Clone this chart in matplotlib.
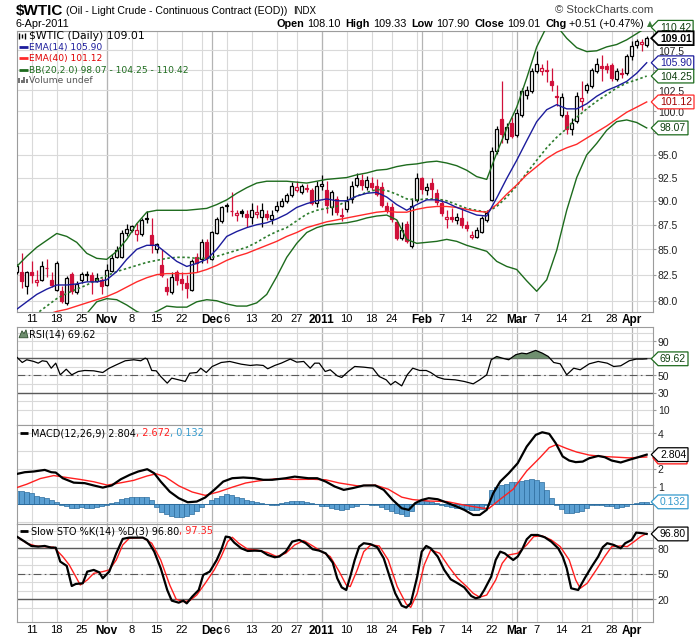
import numpy as np
import pandas as pd
import matplotlib
matplotlib.use("Agg")
import matplotlib.pyplot as plt
from matplotlib.lines import Line2D
from matplotlib.patches import Polygon
from matplotlib.path import Path
from matplotlib.ticker import NullLocator
from matplotlib.transforms import blended_transform_factory

plt.rcParams["font.family"] = ["DejaVu Sans"]

W, H = 700, 639

# ---- calendar (one entry per trading session) ----
holidays = ["2010-11-25", "2010-12-24", "2011-01-17", "2011-02-21"]
days = pd.bdate_range("2010-10-06", "2011-04-06")
days = days[~days.isin(pd.to_datetime(holidays))]

tick_pos = [3, 8, 13, 18, 23, 28, 33, 39, 42, 47, 52, 56, 61, 66, 71, 75, 81, 85, 90, 95,
            100, 104, 109, 114, 119, 123]
tick_lab = ["11", "18", "25", "Nov", "8", "15", "22", "Dec", "6", "13", "20", "27", "2011",
            "10", "18", "24", "Feb", "7", "14", "22", "Mar", "7", "14", "21", "28", "Apr"]
month_lab = {"Nov", "Dec", "2011", "Feb", "Mar", "Apr"}

# ---- daily OHLC ----
opens = [82.8, 82.8, 81.4, 82.8, 81.8, 82.0, 83.1, 82.0, 81.0, 80.9,
         79.8, 82.6, 80.8, 82.0, 82.5, 82.5, 81.9, 82.0, 81.5, 82.9,
         84.2, 84.2, 86.6, 87.0, 86.5, 86.5, 88.2, 86.4, 85.0, 83.4,
         81.3, 80.8, 82.8, 82.1, 81.7, 81.0, 84.2, 84.0, 85.7, 84.0,
         86.7, 87.9, 89.6, 88.95, 88.5, 88.9, 88.6, 88.3, 88.6, 88.3,
         88.6, 88.1, 89.0, 89.5, 90.0, 90.6, 91.2, 90.9, 91.4, 91.1,
         89.8, 91.6, 91.1, 89.3, 90.2, 88.5, 89.1, 90.2, 91.7, 92.2,
         91.5, 91.9, 91.6, 91.5, 89.5, 89.3, 87.8, 86.1, 87.6, 85.3,
         90.1, 92.4, 91.1, 91.9, 90.8, 89.8, 88.1, 88.35, 88.0, 88.2,
         87.5, 86.2, 86.2, 86.8, 88.0, 90.1, 95.4, 99.1, 96.8, 98.7,
         97.2, 99.6, 101.9, 102.4, 104.9, 104.9, 105.0, 103.6, 101.8, 99.6,
         99.6, 97.9, 98.9, 101.2, 102.6, 103.0, 104.9, 105.5, 105.5, 105.6,
         103.9, 104.6, 104.6, 106.8, 108.1, 108.3, 108.10]
highs = [83.5, 84.6, 82.9, 83.8, 83.0, 83.8, 84.0, 82.8, 83.8, 81.4,
         82.4, 82.8, 81.9, 82.8, 82.9, 82.8, 82.7, 82.2, 83.5, 84.5,
         85.3, 87.0, 87.6, 87.5, 87.7, 88.2, 88.9, 88.2, 85.6, 85.0,
         82.2, 82.8, 82.95, 82.8, 82.5, 84.0, 84.6, 86.0, 86.0, 86.9,
         88.3, 89.5, 89.8, 90.9, 89.0, 89.1, 89.0, 89.8, 89.6, 89.8,
         89.0, 89.0, 90.0, 90.3, 90.8, 92.0, 92.1, 91.8, 91.8, 91.4,
         92.1, 92.8, 92.1, 91.2, 90.5, 89.2, 90.5, 92.1, 93.0, 92.9,
         92.7, 92.6, 92.3, 92.0, 89.9, 89.8, 88.0, 87.8, 87.9, 90.3,
         93.0, 92.6, 91.9, 92.4, 91.3, 90.2, 89.0, 89.2, 88.7, 89.1,
         87.9, 86.9, 87.3, 88.4, 89.0, 95.9, 98.3, 103.6, 98.6, 99.3,
         100.3, 102.8, 103.0, 105.2, 107.4, 105.8, 106.2, 105.2, 103.2, 102.2,
         100.1, 99.2, 102.3, 103.6, 103.4, 105.3, 106.5, 106.9, 105.9, 105.9,
         105.3, 105.3, 107.0, 108.6, 108.9, 108.9, 109.33]
lows = [82.6, 81.2, 80.6, 81.7, 81.4, 81.9, 82.3, 81.3, 80.9, 79.8,
        79.6, 80.6, 80.6, 81.7, 81.9, 80.6, 81.8, 80.6, 81.4, 82.8,
        84.1, 84.1, 86.3, 86.8, 85.8, 86.3, 87.7, 84.6, 84.6, 82.3,
        80.5, 80.6, 81.5, 81.0, 80.3, 80.9, 82.8, 83.6, 83.6, 83.9,
        86.5, 87.7, 88.8, 88.4, 87.9, 88.3, 87.3, 87.6, 88.2, 87.3,
        88.0, 87.6, 88.8, 89.3, 89.8, 90.4, 90.9, 90.7, 90.9, 89.6,
        89.3, 91.2, 88.7, 88.5, 88.5, 87.9, 88.8, 89.8, 91.5, 91.1,
        91.2, 91.2, 90.5, 89.3, 88.7, 87.8, 85.9, 85.9, 85.6, 85.1,
        89.9, 90.7, 90.6, 90.2, 89.6, 88.4, 87.2, 87.8, 87.6, 87.2,
        86.9, 86.0, 86.1, 86.6, 87.8, 90.0, 95.1, 96.3, 96.4, 96.9,
        97.0, 99.4, 101.5, 102.2, 104.6, 104.4, 103.5, 102.4, 100.6, 99.4,
        97.4, 97.3, 98.6, 100.2, 102.2, 102.8, 104.6, 103.6, 104.6, 103.6,
        103.7, 104.0, 104.4, 106.2, 107.7, 107.4, 107.90]
closes = [83.3, 81.85, 82.8, 82.5, 82.0, 83.3, 83.1, 81.5, 83.6, 79.95,
          82.2, 80.9, 81.6, 82.6, 82.6, 81.9, 82.2, 81.4, 83.0, 84.1,
          84.9, 86.7, 87.1, 87.4, 87.0, 88.0, 88.05, 85.4, 85.5, 82.5,
          80.9, 82.3, 82.0, 81.7, 81.2, 83.8, 83.6, 85.7, 84.1, 86.8,
          88.1, 89.3, 89.4, 88.9, 88.7, 88.75, 88.3, 89.0, 88.8, 89.0,
          88.3, 88.5, 89.5, 90.0, 90.6, 91.6, 91.5, 91.6, 91.3, 89.8,
          91.6, 91.75, 89.6, 90.9, 88.8, 88.4, 90.0, 91.6, 92.4, 91.7,
          92.2, 91.5, 90.7, 89.6, 89.0, 88.1, 86.1, 87.0, 85.8, 89.4,
          92.5, 91.3, 91.5, 91.3, 89.9, 88.7, 88.3, 88.1, 88.3, 87.5,
          87.2, 86.4, 87.0, 88.2, 88.7, 95.4, 98.0, 97.4, 98.2, 97.1,
          99.8, 102.4, 102.6, 104.9, 105.8, 105.3, 104.9, 103.2, 101.7, 101.7,
          97.9, 98.7, 101.8, 101.6, 103.1, 105.0, 105.8, 105.2, 105.1, 104.0,
          104.9, 104.5, 106.8, 108.0, 108.6, 108.50, 109.01]

# ---- overlays, read every second session ----
band_days = list(range(0, 127, 2))
ema14 = [79.2, 79.9, 80.6, 81.1, 81.5, 81.5, 81.6, 81.8, 81.8, 82.0,
         82.8, 84.0, 85.0, 85.4, 85.4, 84.6, 83.8, 83.3, 83.6, 84.0,
         85.0, 86.3, 86.8, 87.2, 87.5, 87.7, 88.1, 88.6, 89.3, 89.7,
         90.0, 90.2, 90.0, 90.0, 90.5, 90.8, 90.9, 90.4, 89.6, 89.0,
         89.6, 90.1, 90.1, 89.8, 89.3, 88.9, 88.5, 88.4, 90.3, 92.4,
         94.4, 96.6, 98.8, 100.2, 100.8, 100.3, 100.3, 100.9, 101.8, 102.5,
         103.0, 103.6, 104.6, 105.9]
ema40 = [78.2, 78.3, 78.5, 78.7, 79.0, 79.2, 79.5, 79.8, 80.1, 80.4,
         80.8, 81.3, 81.8, 82.2, 82.5, 82.6, 82.6, 82.6, 82.7, 83.0,
         83.4, 83.9, 84.3, 84.6, 85.0, 85.4, 85.8, 86.3, 86.7, 87.2,
         87.5, 87.8, 88.0, 88.2, 88.4, 88.6, 88.8, 88.9, 88.8, 88.8,
         89.1, 89.3, 89.4, 89.4, 89.3, 89.1, 88.9, 88.8, 89.6, 90.7,
         91.7, 92.8, 93.7, 94.6, 95.3, 95.8, 96.2, 96.9, 97.6, 98.3,
         99.1, 99.9, 100.5, 101.12]
bb_mid = [78.0, 78.4, 78.8, 79.5, 80.2, 80.7, 81.1, 81.5, 82.0, 82.4,
          82.8, 83.1, 83.4, 83.7, 83.9, 84.1, 84.2, 84.2, 84.1, 84.1,
          84.3, 84.6, 84.9, 85.2, 85.7, 86.3, 86.8, 87.2, 87.9, 88.6,
          89.0, 89.2, 89.4, 90.0, 90.5, 90.9, 91.2, 91.1, 90.7, 90.2,
          90.1, 90.2, 90.2, 90.0, 89.6, 89.2, 89.0, 88.8, 89.4, 90.4,
          91.6, 93.0, 94.4, 95.8, 97.0, 98.0, 99.3, 100.3, 101.2, 102.0,
          102.8, 103.4, 103.8, 104.25]
bb_up = [83.3, 84.3, 85.2, 85.9, 86.6, 86.3, 85.7, 84.6, 84.1, 84.0,
         84.8, 86.0, 87.6, 88.8, 89.0, 89.0, 89.0, 89.0, 89.1, 89.2,
         89.6, 90.1, 90.8, 91.4, 91.9, 92.1, 92.1, 92.1, 92.0, 91.9,
         92.1, 92.3, 92.4, 92.5, 92.8, 93.0, 93.3, 93.4, 93.7, 93.9,
         94.0, 94.2, 94.3, 94.1, 93.8, 93.3, 92.6, 92.3, 95.2, 98.0,
         100.5, 104.0, 107.9, 110.5, 110.6, 109.0, 107.8, 107.3, 107.4, 107.9,
         108.2, 108.8, 109.6, 110.42]
bb_lo = [72.7, 72.5, 72.8, 73.1, 73.8, 75.1, 77.5, 78.8, 79.9, 80.2,
         80.1, 79.6, 79.0, 78.6, 79.0, 79.5, 79.4, 79.4, 79.9, 80.1,
         80.0, 79.7, 79.5, 79.5, 79.8, 80.6, 82.3, 84.2, 85.6, 86.7,
         87.2, 87.5, 87.6, 87.7, 87.9, 88.2, 88.4, 88.5, 88.0, 86.0,
         85.6, 85.7, 85.8, 86.0, 85.8, 85.4, 85.1, 84.8, 83.8, 83.3,
         83.0, 81.9, 80.9, 82.0, 84.9, 89.0, 92.5, 95.0, 96.3, 97.8,
         98.8, 99.0, 98.7, 98.07]

# ---- RSI(14) ----
rsi_day = [0, 1.1, 2, 3.4, 4.3, 5.1, 6, 6.9, 7.8, 8.7, 9.9, 11, 12.3, 13.6, 15.4, 17.2,
           18.5, 19.9, 21.7, 23.4, 24.8, 25.7, 26.1, 27, 27.9, 28.8, 30.1, 31, 32.4, 33.7,
           34.6, 36, 36.8, 37.9, 39.1, 40.9, 42.6, 44.9, 46.7, 48, 49.3, 50.2, 51.6, 52.9,
           54.7, 56, 57.4, 58.7, 59.6, 60.5, 61.7, 62.7, 64.1, 65, 66.3, 67.6, 69.4, 71.2,
           72.5, 73.9, 74.8, 75.7, 77, 78.1, 79.2, 80.6, 81.9, 82.8, 84.2, 85.5, 87.7, 89.5,
           91.3, 92.6, 94, 94.9, 96, 97.1, 98.4, 99.8, 101, 102, 103.8, 105.1, 106.3, 107.4,
           108.7, 110, 111.4, 112.7, 114.5, 116.3, 118.1, 119.4, 120.8, 122.5, 123.9, 125.2, 126]
rsi_val = [71.6, 65.3, 68.5, 66.5, 64.5, 67.3, 66.5, 58.6, 64.5, 50.8, 57.4, 50.8, 54.7, 55.9,
           55.5, 53.5, 58.6, 62.5, 67.3, 68.5, 67.3, 70.4, 69.2, 55.9, 55.5, 48.8, 41.0, 46.9,
           44.9, 43.0, 52.7, 53.5, 58.6, 53.5, 60.6, 65.3, 66.5, 63.3, 61.8, 62.5, 61.8, 57.9,
           61.8, 64.5, 69.3, 65.7, 66.5, 58.6, 64.5, 64.5, 54.7, 56.7, 49.6, 47.7, 54.7, 60.6,
           59.8, 58.6, 48.8, 44.9, 39.0, 43.0, 37.8, 50.8, 58.6, 55.9, 55.9, 53.5, 48.0, 45.7,
           44.9, 43.0, 40.2, 44.9, 50.8, 68.5, 72.4, 70.4, 68.5, 74.4, 76.3, 75.5, 79.5, 76.3,
           72.4, 65.3, 63.7, 50.8, 58.6, 56.7, 63.7, 66.5, 64.5, 60.6, 61.4, 67.3, 69.3, 69.3,
           69.62]

# ---- MACD(12,26,9) ----
macd_day = [0, 1.6, 3.4, 5.6, 6.9, 7.8, 9.2, 11.4, 13.6, 15.4, 17.2, 19.0, 20.8, 22.6, 24.3,
            26.1, 27.5, 28.8, 30.6, 32.4, 34.2, 36.0, 37.7, 39.5, 41.3, 43.1, 45.3, 47.5, 49.3,
            51.1, 53.8, 55.6, 58.3, 60.1, 61.8, 63.6, 65.4, 67.2, 69.4, 71.7, 73.4, 75.2, 77.0,
            78.4, 79.7, 81.0, 82.4, 84.2, 86.0, 87.7, 89.5, 91.3, 92.6, 94.0, 95.3, 96.7, 98.4,
            100.2, 102.0, 103.8, 105.1, 106.5, 107.8, 109.2, 110.5, 111.8, 113.2, 114.5, 116.3,
            117.6, 119.0, 120.8, 122.5, 124.3, 126]
macd_val = [1.71, 1.81, 1.85, 1.94, 1.81, 1.79, 1.47, 1.22, 1.19, 1.06, 0.94, 1.06, 1.41, 1.66,
            1.85, 1.98, 1.75, 1.28, 0.71, 0.34, 0.11, 0.15, 0.38, 0.81, 1.28, 1.47, 1.51, 1.47,
            1.38, 1.38, 1.47, 1.56, 1.47, 1.47, 1.28, 1.00, 0.81, 0.91, 1.06, 1.06, 0.81, 0.24,
            -0.23, -0.32, 0.06, 0.24, 0.34, 0.28, 0.09, -0.10, -0.32, -0.61, -0.61, -0.32, 0.62,
            1.28, 1.75, 2.32, 3.26, 3.92, 4.07, 3.98, 3.45, 2.70, 2.47, 2.38, 2.41, 2.60, 2.73,
            2.66, 2.47, 2.36, 2.51, 2.66, 2.804]
sig_day = [0, 2.0, 4.7, 7.4, 10.0, 12.7, 15.4, 18.1, 20.8, 23.4, 26.1, 27.9, 29.7, 32.4, 35.1,
           37.7, 40.4, 43.1, 45.8, 48.4, 52.0, 55.6, 59.2, 61.8, 64.5, 68.1, 71.7, 74.3, 77.0,
           79.2, 82.4, 86.0, 89.5, 93.1, 94.4, 96.7, 99.3, 102.0, 104.7, 106.5, 108.0, 110.0,
           112.0, 114.5, 117.2, 120.0, 122.5, 126]
sig_val = [0.94, 1.13, 1.45, 1.62, 1.51, 1.40, 1.27, 1.08, 1.21, 1.35, 1.60, 1.72, 1.55, 1.04,
           0.69, 0.50, 0.70, 0.96, 1.20, 1.32, 1.44, 1.40, 1.41, 1.38, 1.20, 1.04, 1.08, 0.85,
           0.40, 0.26, 0.18, 0.15, -0.05, -0.22, -0.25, 0.28, 0.85, 1.88, 2.65, 3.20, 3.38, 3.15,
           2.95, 2.78, 2.70, 2.66, 2.62, 2.672]
hist = [0.77, 0.75, 0.70, 0.62, 0.47, 0.40, 0.34, 0.21, 0.15, -0.06,
        -0.13, -0.19, -0.23, -0.17, -0.19, -0.21, -0.17, -0.13, -0.06, 0.06,
        0.15, 0.28, 0.36, 0.40, 0.40, 0.40, 0.38, 0.21, -0.17, -0.42,
        -0.57, -0.66, -0.70, -0.70, -0.68, -0.57, -0.40, -0.17, 0.02, 0.21,
        0.34, 0.47, 0.57, 0.51, 0.43, 0.34, 0.25, 0.17, 0.13, 0.06,
        0.02, -0.04, -0.04, 0.06, 0.15, 0.19, 0.19, 0.17, 0.13, 0.06,
        0.0, -0.08, -0.13, -0.19, -0.28, -0.32, -0.25, -0.17, -0.08, 0.0,
        0.0, -0.04, -0.06, -0.17, -0.28, -0.40, -0.47, -0.57, -0.64, -0.36,
        0.06, 0.17, 0.19, 0.13, 0.06, -0.06, -0.13, -0.17, -0.19, -0.23,
        -0.28, -0.32, -0.32, -0.26, -0.04, 0.81, 1.0, 1.09, 1.15, 1.23,
        1.28, 1.34, 1.38, 1.42, 1.38, 1.28, 0.81, 0.34, -0.04, -0.28,
        -0.51, -0.47, -0.43, -0.38, -0.23, -0.06, -0.02, -0.04, -0.08, -0.13,
        -0.19, -0.17, -0.08, 0.02, 0.09, 0.11, 0.132]

# ---- Slow STO %K(14) %D(3) ----
k_day = [0, 1.6, 2.9, 4.3, 5.6, 6.9, 7.8, 8.7, 10.0, 11.0, 11.8, 13.2, 14.1, 15.4, 16.5, 17.2,
         18.5, 19.9, 21.2, 22.5, 23.9, 25.2, 26.1, 27.5, 28.8, 30.1, 31.0, 32.4, 33.3, 34.0,
         35.1, 36.4, 37.3, 38.6, 40.0, 40.9, 41.8, 42.6, 43.5, 44.9, 46.2, 47.6, 48.9, 50.2,
         51.6, 52.5, 53.8, 55.1, 56.5, 57.8, 59.2, 60.5, 61.8, 63.2, 64.1, 65.0, 65.9, 66.7,
         67.6, 68.5, 69.4, 70.8, 72.1, 73.4, 74.8, 75.7, 77.0, 77.9, 78.8, 80.1, 81.0, 81.9,
         82.8, 84.2, 85.5, 86.8, 88.2, 89.5, 90.9, 91.8, 92.6, 93.5, 94.9, 95.8, 96.7, 97.6,
         98.4, 99.3, 100.2, 101.1, 102.0, 102.9, 104.2, 105.6, 106.9, 108.3, 109.2, 110.0,
         110.9, 112.3, 113.6, 115.0, 116.3, 117.2, 118.1, 119.4, 120.8, 121.7, 123.0, 123.9,
         125.2, 126]
k_val = [93.7, 87.8, 82.7, 81.9, 82.7, 80.7, 80.7, 64.3, 59.2, 35.6, 38.0, 38.8, 52.5, 54.5,
         51.7, 44.7, 52.5, 74.0, 91.0, 92.5, 92.5, 92.5, 89.8, 76.0, 56.4, 30.9, 18.4, 16.0,
         18.4, 15.2, 23.1, 30.9, 48.6, 52.5, 66.2, 78.0, 93.7, 92.9, 86.6, 79.9, 76.8, 77.2,
         76.8, 72.1, 69.4, 70.2, 76.0, 87.8, 89.8, 85.9, 78.8, 77.2, 74.0, 63.1, 44.7, 34.0,
         30.9, 46.6, 66.2, 81.9, 85.9, 84.7, 81.2, 68.2, 42.7, 27.0, 12.5, 10.2, 15.2, 46.6,
         76.0, 82.7, 79.9, 70.2, 54.5, 43.5, 38.8, 34.0, 23.9, 21.2, 22.4, 30.9, 46.6, 66.2,
         76.0, 74.0, 70.2, 66.2, 70.2, 78.8, 90.5, 95.6, 95.6, 92.9, 87.8, 79.9, 70.2, 56.4,
         32.9, 30.9, 44.7, 58.4, 70.2, 81.2, 85.9, 83.9, 79.9, 85.9, 89.8, 98.4, 97.6, 96.8]
d_day = [0, 2.0, 3.8, 5.6, 7.4, 9.2, 10.5, 11.8, 12.7, 14.1, 15.4, 17.2, 18.5, 19.9, 21.2, 22.5,
         25.2, 27.0, 28.8, 30.6, 31.9, 33.3, 34.6, 36.0, 37.7, 39.5, 40.9, 42.2, 43.1, 44.4,
         46.2, 48.0, 50.2, 52.0, 53.8, 55.6, 57.4, 59.2, 61.0, 62.7, 64.5, 65.9, 66.7, 68.1,
         69.4, 70.8, 72.5, 74.3, 76.1, 77.9, 78.8, 80.1, 81.5, 82.8, 84.6, 86.4, 88.2, 90.0,
         91.3, 92.6, 94.0, 95.8, 97.1, 98.4, 100.2, 102.0, 103.4, 105.1, 106.9, 108.7, 110.5,
         111.8, 112.7, 114.1, 115.9, 117.6, 119.0, 120.8, 122.1, 123.5, 124.8, 126]
d_val = [93.7, 85.9, 82.7, 81.9, 81.2, 70.2, 60.4, 46.6, 36.8, 42.7, 50.5, 52.5, 54.5, 66.2,
         83.9, 91.7, 92.5, 85.9, 66.2, 36.8, 19.9, 17.2, 18.4, 25.0, 38.8, 54.5, 70.2, 87.8,
         92.9, 85.9, 78.8, 78.0, 74.9, 70.2, 74.1, 83.9, 89.0, 82.7, 76.0, 70.2, 52.5, 36.8,
         34.9, 54.5, 76.0, 83.9, 82.7, 66.2, 34.9, 14.4, 10.5, 27.0, 60.4, 78.0, 74.1, 58.4,
         44.7, 34.9, 27.0, 22.4, 25.0, 42.7, 62.3, 72.1, 74.1, 83.9, 93.7, 94.5, 89.8, 81.9,
         66.2, 42.7, 32.9, 38.8, 54.5, 70.2, 81.9, 82.7, 81.9, 87.8, 93.7, 97.35]

# ---- colours ----
RED = "#d0103a"
NAVY = "#1c1c9c"
EMA_RED = "#ff2a2a"
GREEN = "#1d6b1d"
GRID = "#d9d9d9"
GRID_M = "#b4b4b4"
SPINE = "#9c9c9c"
MACD_BLUE = "#3399cc"

fig = plt.figure(figsize=(W / 100, 6.395), dpi=100)
fig.patch.set_facecolor("white")


def box(top, bottom, left=16.5, right=653.0):
    return [left / W, 1 - bottom / H, (right - left) / W, (bottom - top) / H]


ax_p = fig.add_axes(box(31, 312))
ax_r = fig.add_axes(box(327, 425))
ax_m = fig.add_axes(box(425, 524))
ax_s = fig.add_axes(box(524, 622))
panels = [ax_p, ax_r, ax_m, ax_s]

x = np.arange(len(closes))
wk = days.isocalendar().week.values
mo = days.month.values
week_idx = [i for i in range(1, len(days)) if wk[i] != wk[i - 1]]
month_idx = [i for i in range(1, len(days)) if mo[i] != mo[i - 1]]

for ax in panels:
    ax.set_xlim(-0.05, 127.26)
    ax.set_facecolor("white")
    for i in week_idx:
        ax.axvline(i, color=GRID, lw=0.8, zorder=0)
    for i in month_idx:
        ax.axvline(i, color=GRID_M, lw=0.9, zorder=0)
    for s in ax.spines.values():
        s.set_color(SPINE)
        s.set_linewidth(0.8)
    ax.yaxis.tick_right()
    ax.tick_params(axis="y", length=2, pad=1.5, labelsize=7.5, colors="#222222")
    ax.tick_params(axis="y", color=SPINE)
    ax.set_xticks(tick_pos)
    ax.tick_params(axis="x", length=0, pad=1.5, labelsize=8)
    ax.xaxis.set_minor_locator(NullLocator())

for ax in (ax_p, ax_s):
    ax.set_xticklabels(tick_lab)
    for lab in ax.get_xticklabels():
        lab.set_family("Liberation Sans")
        if lab.get_text() in month_lab:
            lab.set_fontweight("bold")
            lab.set_fontsize(8.5)
for ax in (ax_r, ax_m):
    ax.set_xticklabels([])

# ---- price panel ----
ax_p.set_yscale("log")
ax_p.set_ylim(78.97, 110.0)
ylev = np.arange(80, 110.1, 2.5)
for v in ylev:
    ax_p.axhline(v, color=GRID, lw=0.8, zorder=0)
ax_p.set_yticks(ylev[:-1])
# 97.5 and 105.0 sit under the value tags
ax_p.set_yticklabels(["" if v in (97.5, 105.0) else f"{v:.1f}" for v in ylev[:-1]])
ax_p.yaxis.set_minor_locator(NullLocator())

o = np.array(opens)
hi = np.array(highs)
lo = np.array(lows)
c = np.array(closes)
prev = np.r_[c[0], c[:-1]]
col = np.where(c >= prev, "black", RED)
face = np.where(c > o, "white", col)
ax_p.vlines(x, lo, hi, colors=col, lw=0.9, zorder=3)
ax_p.bar(x, np.maximum(o, c) - np.minimum(o, c), bottom=np.minimum(o, c), width=0.62,
         color=face, edgecolor=col, linewidth=0.9, zorder=4)

ax_p.plot(band_days, bb_up, color=GREEN, lw=1.0, zorder=5)
ax_p.plot(band_days, bb_lo, color=GREEN, lw=1.0, zorder=5)
ax_p.plot(band_days, bb_mid, color="#2e7d2e", lw=1.2, ls=(0, (1.5, 1.5)), zorder=5)
ax_p.plot(band_days, ema40, color=EMA_RED, lw=1.0, zorder=5)
ax_p.plot(band_days, ema14, color=NAVY, lw=1.0, zorder=5)

# ---- RSI panel ----
ax_r.set_ylim(-8.0, 107.3)
for v in range(10, 101, 10):
    ax_r.axhline(v, color=GRID, lw=0.8, zorder=0)
ax_r.axhline(70, color="#5a5a5a", lw=1.0, zorder=1)
ax_r.axhline(30, color="#5a5a5a", lw=1.0, zorder=1)
ax_r.axhline(50, color="#5a5a5a", lw=0.8, ls=(0, (7, 3, 1.5, 3)), zorder=1)
rd = np.array(rsi_day)
rv = np.array(rsi_val)
ax_r.fill_between(rd, rv, 70, where=rv > 70, interpolate=True, color="#6f8f6f", lw=0, zorder=2)
ax_r.plot(rd, rv, color="black", lw=0.9, zorder=3)
ax_r.set_yticks([10, 30, 50, 70, 90])
ax_r.set_yticklabels(["10", "30", "50", "", "90"])

# ---- MACD panel ----
ax_m.set_ylim(-1.115, 4.49)
for v in range(-1, 5):
    ax_m.axhline(v, color=GRID, lw=0.8, zorder=0)
ax_m.bar(x, hist, width=1.0, color="#5a9fd2", edgecolor="#2c6d9e", linewidth=0.5, zorder=2)
ax_m.axhline(0, color="#2c6d9e", lw=0.7, zorder=2)
ax_m.plot(sig_day, sig_val, color="#ff2020", lw=1.0, zorder=3)
ax_m.plot(macd_day, macd_val, color="black", lw=1.6, zorder=4)
ax_m.set_yticks([0, 1, 2, 3, 4])
ax_m.set_yticklabels(["", "1", "2", "", "4"])

# ---- STO panel ----
ax_s.set_ylim(-6.7, 108.6)
for v in range(10, 101, 10):
    ax_s.axhline(v, color=GRID, lw=0.8, zorder=0)
ax_s.axhline(80, color="#5a5a5a", lw=1.0, zorder=1)
ax_s.axhline(20, color="#5a5a5a", lw=1.0, zorder=1)
ax_s.axhline(50, color="#5a5a5a", lw=0.8, ls=(0, (7, 3, 1.5, 3)), zorder=1)
ax_s.plot(d_day, d_val, color="#ff2020", lw=1.0, zorder=3)
ax_s.plot(k_day, k_val, color="black", lw=1.6, zorder=4)
ax_s.set_yticks([20, 50, 80])
ax_s.set_yticklabels(["20", "50", "80"])

for ax in panels:
    for lab in ax.get_yticklabels():
        lab.set_family("Liberation Sans")


# ---- value tags on the right axis ----
class TagBox:
    def __init__(self, pad=0.18):
        self.pad = pad

    def __call__(self, x0, y0, width, height, mutation_size):
        p = self.pad * mutation_size
        x0, y0 = x0 - p, y0 - p
        w, h = width + 2 * p, height + 2 * p
        d = h * 0.5
        verts = [(x0 - d, y0 + h / 2), (x0, y0), (x0 + w, y0), (x0 + w, y0 + h),
                 (x0, y0 + h), (x0 - d, y0 + h / 2)]
        return Path(verts + [verts[0]], closed=True)


def tag(ax, y, s, edge, text_col, bold=False, lw=0.9):
    tr = blended_transform_factory(ax.transAxes, ax.transData)
    ax.text((660 - 16.5) / 636.5, y, s, transform=tr, ha="left", va="center",
            fontsize=7.5, family="Liberation Sans", color=text_col,
            fontweight="bold" if bold else "normal", clip_on=False, zorder=10,
            bbox=dict(boxstyle=TagBox(), fc="white", ec=edge, lw=lw))


tag(ax_p, 110.42, "110.42", GREEN, "#0f3f0f")
tag(ax_p, 109.01, "109.01", "black", "black", bold=True, lw=1.3)
tag(ax_p, 105.90, "105.90", NAVY, NAVY)
tag(ax_p, 104.25, "104.25", GREEN, "#0f3f0f")
tag(ax_p, 101.12, "101.12", EMA_RED, "#a00000")
tag(ax_p, 98.07, "98.07", GREEN, "#0f3f0f")
tag(ax_r, 69.62, "69.62", GREEN, "#0f3f0f")

# the signal-line tag peeks out from under the MACD tag
ax_m.add_artist(Polygon([(653 / W, 1 - 458 / H), (658 / W, 1 - 452 / H), (687 / W, 1 - 452 / H),
                         (687 / W, 1 - 464 / H), (658 / W, 1 - 464 / H)], closed=True,
                        transform=fig.transFigure, clip_on=False,
                        fc="white", ec="#ff2020", lw=1.0, zorder=9))
tag(ax_m, 2.804, "2.804", "black", "black")
tag(ax_m, 0.132, "0.132", MACD_BLUE, MACD_BLUE)
tag(ax_s, 96.80, "96.80", "black", "black")

# ---- texts ----
rend = fig.canvas.get_renderer()


def put(px, py, s, size=7.5, weight="normal", color="black", family="Liberation Sans",
        ha="left"):
    return fig.text(px / W, 1 - py / H, s, fontsize=size, fontweight=weight, color=color,
                    family=family, ha=ha, va="center")


def run(px, py, parts, family, align="left"):
    xs = px
    made = []
    for s, weight, color, gap, size in parts:
        t = put(xs, py, s, size=size, weight=weight, color=color, family=family)
        w = t.get_window_extent(rend).width
        made.append(t)
        xs += w + gap
    if align == "right":
        shift = xs - px
        for t in made:
            t.set_x(t.get_position()[0] - shift / W)
    return xs


def seg(x0, y0, x1, y1, color, lw=1.0):
    fig.add_artist(Line2D([x0 / W, x1 / W], [1 - y0 / H, 1 - y1 / H], color=color, lw=lw,
                          solid_capstyle="butt"))


run(16, 11, [("$WTIC", "bold", "black", 3, 11),
             ("(Oil - Light Crude - Continuous Contract (EOD))", "normal", "black", 5, 7.6),
             ("INDX", "normal", "black", 0, 7.0)], "Liberation Sans")
put(16, 24, "6-Apr-2011", size=7.8)
put(653, 10, "\u00a9 StockCharts.com", size=8.2, color="#444444", ha="right")
run(644, 24, [("Open", "bold", "black", 3, 7.8), ("108.10", "normal", "black", 5, 7.8),
              ("High", "bold", "black", 3, 7.8), ("109.33", "normal", "black", 5, 7.8),
              ("Low", "bold", "black", 3, 7.8), ("107.90", "normal", "black", 5, 7.8),
              ("Close", "bold", "black", 3, 7.8), ("109.01", "normal", "black", 5, 7.8),
              ("Chg", "bold", "black", 3, 7.8), ("+0.51 (+0.47%)", "normal", "black", 0, 7.8)],
    "Liberation Sans", align="right")
put(650, 23, "\u25b2", size=5.5, color="#3c7d3c", family="DejaVu Sans", ha="center")

# price legend
seg(19, 33, 19, 39, "black", 1.0)
seg(22, 34, 22, 38, "black", 1.0)
seg(25, 33, 25, 39, "black", 1.0)
put(29, 36, "$WTIC (Daily) 109.01", size=7.8, family="DejaVu Sans")
for py, s, colr, line_col in [(47, "EMA(14) 105.90", NAVY, NAVY),
                              (58.5, "EMA(40) 101.12", "#e00000", EMA_RED),
                              (70, "BB(20,2.0) 98.07 - 104.25 - 110.42", GREEN, GREEN)]:
    seg(19, py, 28, py, line_col, 2.0)
    put(29, py, s, size=6.6, color=colr, family="DejaVu Sans")
for bx, bh in [(19, 5), (21.5, 3), (24, 6), (26.5, 4)]:
    seg(bx, 83, bx, 83 - bh, "#666666", 1.3)
put(29, 80, "Volume undef", size=6.6, color="#555555", family="DejaVu Sans")

# RSI legend
fig.add_artist(Polygon([(19 / W, 1 - 338 / H), (22 / W, 1 - 331 / H), (24 / W, 1 - 334 / H),
                        (26 / W, 1 - 330 / H), (28 / W, 1 - 338 / H)], closed=True,
                       fc="#6f8f6f", ec="#2f4f2f", lw=0.6))
put(29, 334, "RSI(14) 69.62", size=7, family="DejaVu Sans")

# MACD legend
seg(20, 433, 28, 433, "black", 2.0)
run(31, 433, [("MACD(12,26,9) 2.804", "normal", "black", 0, 7),
              (", 2.672", "normal", "#ff2020", 0, 7),
              (", 0.132", "normal", MACD_BLUE, 0, 7)], "DejaVu Sans")

# STO legend
seg(20, 531, 28, 531, "black", 2.0)
run(31, 531, [("Slow STO %K(14) %D(3) 96.80", "normal", "black", 0, 7),
              (", 97.35", "normal", "#ff2020", 0, 7)], "DejaVu Sans")

fig.savefig("out.png", dpi=100, facecolor="white")
